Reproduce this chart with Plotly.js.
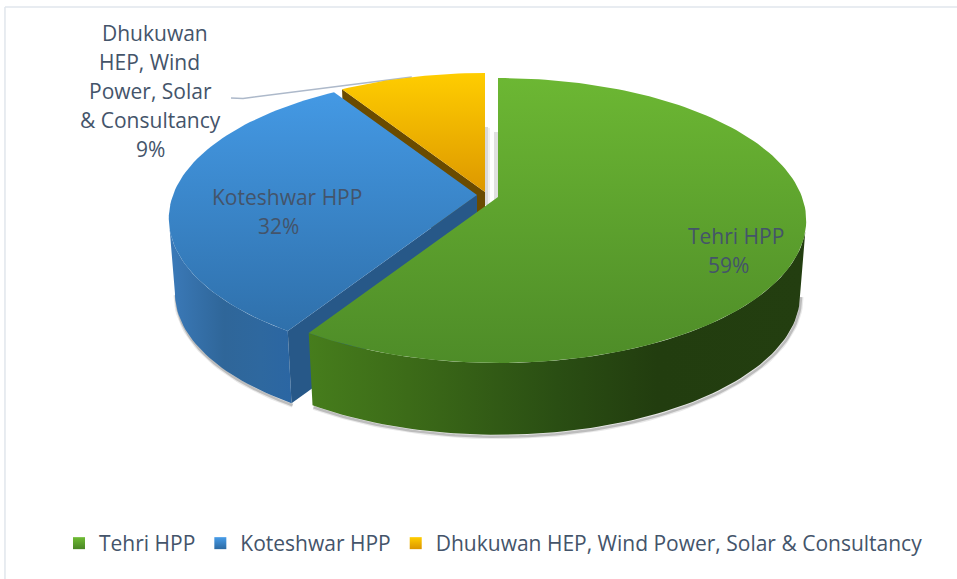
<!DOCTYPE html>
<html><head><meta charset="utf-8">
<script src="https://cdn.plot.ly/plotly-3.0.1.min.js"></script>
<style>html,body{margin:0;padding:0;background:#fff}#c{width:957px;height:579px}</style></head>
<body><div id="c"></div>
<script>
// ---- data ----
const categories = ['Tehri HPP', 'Koteshwar HPP', 'Dhukuwan HEP, Wind Power, Solar & Consultancy'];
const labelLines = [['Tehri HPP'], ['Koteshwar HPP'], ['Dhukuwan', 'HEP, Wind', 'Power, Solar', '& Consultancy']];
const shares = [59, 32, 9];

// ---- view of the tilted, exploded pie ----
const RX = 304, RY = 138.6, PERSP = 0.165, DEPTH = 75, FLOOR = 0.98;
const hubs = [[498, 197], [477, 195], [485, 192]];
const TEXT = '#44546a', FONT = '"Open Sans", sans-serif', FS = 21, LINE = 29;
const topFill = [['#6cb733', '#4e8c28'], ['#4499e4', '#2f70ab'], ['#ffcd00', '#dd9800']];
const legendFill = [['#6fbc34', '#4a8526'], ['#479ce8', '#2c6aa3'], ['#ffcd00', '#db9500']];

const total = shares.reduce((a, b) => a + b, 0);
let acc = 0;
const spans = shares.map(s => { const a = acc; acc += s / total * 360; return [a, acc]; });
// angle at which the rim is widest on screen (the silhouette of the wall)
const SIL = Math.acos(-PERSP) * 180 / Math.PI;

function rim(i, deg, floor) {
  const t = deg * Math.PI / 180, u = Math.sin(t), v = -Math.cos(t), d = 1 - PERSP * v;
  const f = floor ? FLOOR : 1;
  return [hubs[i][0] + f * RX * u / d, hubs[i][1] + (floor ? DEPTH : 0) + f * RY * v / d];
}
function arc(i, a, b, floor) {
  const n = Math.max(2, Math.ceil(Math.abs(b - a) / 1.5)), pts = [];
  for (let k = 0; k <= n; k++) pts.push(rim(i, a + (b - a) * k / n, floor));
  return pts;
}
function poly(pts, grad, dir) {
  const c = pts.concat([pts[0]]);
  const t = { x: c.map(p => p[0]), y: c.map(p => p[1]), mode: 'lines', fill: 'toself', line: { width: 0 },
    hoverinfo: 'skip', showlegend: false };
  if (Array.isArray(grad)) t.fillgradient = { type: dir, colorscale: grad };
  else t.fillcolor = grad;
  return t;
}
function topFace(i) {
  const pts = [hubs[i]].concat(arc(i, spans[i][0], spans[i][1], false));
  return poly(pts, [[0, topFill[i][1]], [1, topFill[i][0]]], 'vertical');
}
function sideWall(i, a, b, scale) {
  const pts = arc(i, a, b, false).concat(arc(i, a, b, true).reverse());
  return poly(pts, scale, 'horizontal');
}
function cutWall(i, deg, color) {
  const h = hubs[i], top = rim(i, deg, false), bot = rim(i, deg, true);
  return poly([h, top, bot, [h[0], h[1] + DEPTH]], color);
}
function shadow(i, a, b, w, col) {
  const p = arc(i, a, b, true);
  return { x: p.map(q => q[0] + 1), y: p.map(q => q[1] + 2), mode: 'lines', line: { width: w, color: col },
    hoverinfo: 'skip', showlegend: false };
}

const traces = [];
// leader line to the small slice
const midY = (spans[2][0] + spans[2][1]) / 2, anchor = rim(2, midY, false);
traces.push({ x: [231, 243, anchor[0]], y: [98, 98.5, anchor[1]], mode: 'lines',
  line: { color: '#adb9ca', width: 1.5 }, hoverinfo: 'skip', showlegend: false });
// small slice
traces.push(cutWall(2, spans[2][0], '#6a4b00'));
traces.push(topFace(2));
// middle slice
traces.push(shadow(1, 360 - SIL, spans[1][0], 5, 'rgba(110,110,110,0.15)'));
traces.push(shadow(1, 360 - SIL, spans[1][0], 2.5, 'rgba(110,110,110,0.35)'));
traces.push(sideWall(1, 360 - SIL, spans[1][0], [[0, '#3b7ab9'], [0.45, '#2f6699'], [0.75, '#2e689f'], [1, '#2b66a3']]));
traces.push(cutWall(1, spans[1][0], '#275888'));
traces.push(topFace(1));
// largest slice
traces.push(shadow(0, SIL, spans[0][1], 5, 'rgba(110,110,110,0.15)'));
traces.push(shadow(0, SIL, spans[0][1], 2.5, 'rgba(110,110,110,0.35)'));
traces.push(sideWall(0, SIL, spans[0][1], [[0, '#467d1c'], [0.2, '#3c6b18'], [0.5, '#2a4e13'], [0.7, '#223d0f'], [1, '#233e10']]));
traces.push(topFace(0));
// legend entries
categories.forEach((c, i) => traces.push({ x: [null], y: [null], name: c, mode: 'markers', hoverinfo: 'skip',
  marker: { symbol: 'square', size: 12, color: legendFill[i][0], gradient: { type: 'vertical', color: legendFill[i][1] } } }));

// data labels: one annotation per line, so the line pitch matches
const pct = shares.map(s => Math.round(s / total * 100) + '%');
const labelTop = [[736, 236], [287, 197], [150, 33]];
const lineShift = [[0, -8], [0, -9], [5, -1, 0, 0, 0]];
const annotations = [];
labelLines.forEach((lines, i) => {
  lines.concat([pct[i]]).forEach((txt, k) => annotations.push({
    x: labelTop[i][0] + lineShift[i][k], y: labelTop[i][1] + k * LINE, xref: 'x', yref: 'y',
    showarrow: false, text: txt, font: { family: FONT, size: FS, color: TEXT }
  }));
});

// chart frame and the soft shadows behind the gap
const frame = '#e1e6ec';
const shapes = [
  { type: 'line', xref: 'paper', yref: 'paper', x0: 0.0052, x1: 1, y0: 1 - 7 / 579, y1: 1 - 7 / 579, line: { color: frame, width: 1.5 } },
  { type: 'line', xref: 'paper', yref: 'paper', x0: 0.0052, x1: 0.0052, y0: 0, y1: 1 - 7 / 579, line: { color: frame, width: 1.5 } },
  { type: 'rect', x0: 485, x1: 488, y0: 127, y1: 205, fillcolor: 'rgba(120,120,120,0.28)', line: { width: 0 }, layer: 'below' },
  { type: 'rect', x0: 488, x1: 490, y0: 128, y1: 205, fillcolor: 'rgba(120,120,120,0.10)', line: { width: 0 }, layer: 'below' },
  { type: 'rect', x0: 494, x1: 498, y0: 132, y1: 200, fillcolor: 'rgba(120,120,120,0.22)', line: { width: 0 }, layer: 'below' }
];

Plotly.newPlot('c', traces, {
  width: 957, height: 579, margin: { l: 0, r: 0, t: 0, b: 0 },
  paper_bgcolor: '#fff', plot_bgcolor: 'rgba(0,0,0,0)',
  xaxis: { range: [0, 957], visible: false, fixedrange: true },
  yaxis: { range: [579, 0], visible: false, fixedrange: true },
  showlegend: true,
  legend: { orientation: 'h', x: 59 / 957, xanchor: 'left', y: 1 - 523 / 579, yanchor: 'top',
    bgcolor: 'rgba(0,0,0,0)', itemwidth: 30, font: { family: FONT, size: FS, color: TEXT }, itemclick: false, itemdoubleclick: false },
  annotations, shapes
}, { displayModeBar: false, responsive: false });
</script></body></html>
